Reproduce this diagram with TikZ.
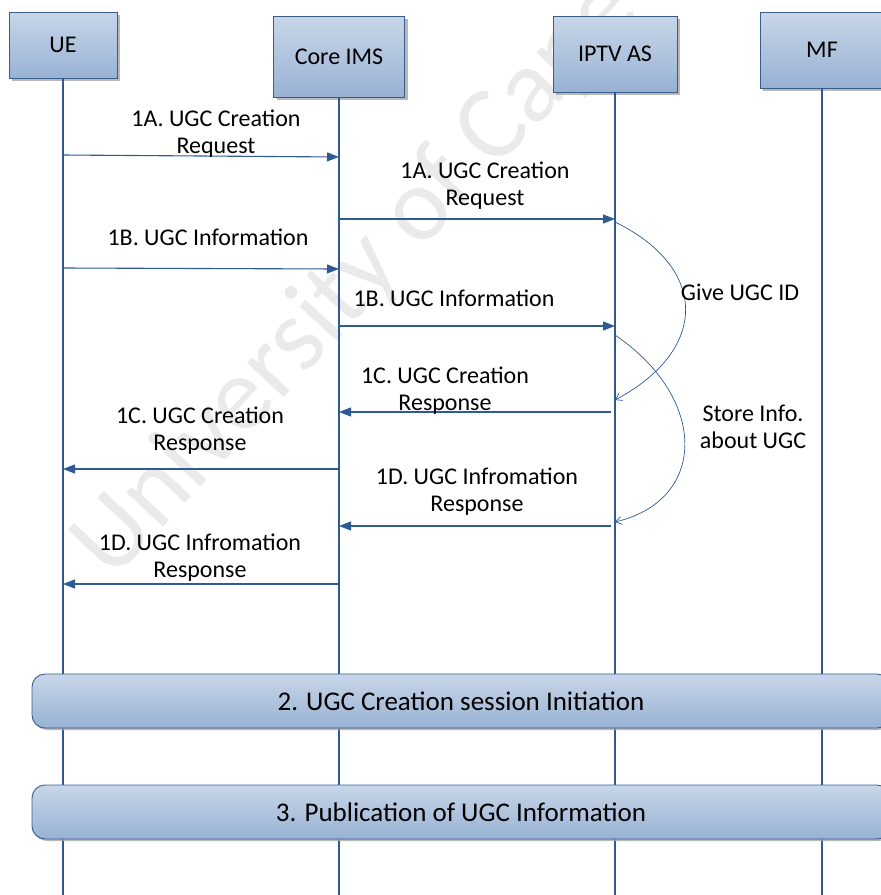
\documentclass[tikz,border=0pt]{standalone}
\usepackage{fontspec}
\setmainfont{Carlito}
\usepackage{tikz}
\usetikzlibrary{positioning, arrows.meta, shadows}
\definecolor{lanecol}{HTML}{2F5A94}
\definecolor{boxedge}{HTML}{385D8A}
\definecolor{boxtop}{HTML}{C8D6E8}
\definecolor{boxbottom}{HTML}{98B2D4}
\definecolor{markgray}{HTML}{EAEAEA}

\tikzset{
  actor/.style={draw=boxedge, line width=0.9pt, top color=boxtop, bottom color=boxbottom,
    drop shadow={shadow xshift=3pt, shadow yshift=-3pt, fill=gray!70, opacity=0.8},
    font=\fontsize{24}{28}\selectfont},
  phase/.style={draw=boxedge, line width=0.9pt, top color=boxtop, bottom color=boxbottom,
    rounded corners=13pt, minimum width=858pt, minimum height=54pt,
    drop shadow={shadow xshift=2pt, shadow yshift=-2pt, fill=gray!70, opacity=0.8},
    font=\fontsize{27}{30}\selectfont},
  lane/.style={draw=lanecol, line width=1.1pt},
  msg/.style={draw=lanecol, line width=1.1pt, -{Triangle[length=12pt,width=9pt]}},
  loopback/.style={draw=lanecol, line width=0.7pt, -{Straight Barb[length=6pt,width=8pt]}},
  lbl/.style={align=center, font=\fontsize{24}{27}\selectfont, inner sep=0pt}
}

\begin{document}
\begin{tikzpicture}[x=1pt, y=-1pt]
  \clip (0,0) rectangle (881,895);
  \useasboundingbox (0,0) rectangle (881,895);

  % watermark
  \node[anchor=base west, rotate=47, text=markgray, font=\fontsize{105}{105}\selectfont, inner sep=0pt]
    (mark) at (112,582) {University of Cape Town};

  % actors
  \node[actor, minimum width=108pt, minimum height=66pt] (ue) at (63,45) {UE};
  \node[actor, minimum width=131pt, minimum height=81pt] (ims) at (339,56.5) {Core IMS};
  \node[actor, minimum width=124pt, minimum height=76pt] (iptv) at (615,54) {IPTV AS};
  \node[actor, minimum width=124pt, minimum height=76pt] (mf) at (822,50) {MF};

  % lifelines
  \coordinate (ueend) at (63,895);
  \coordinate (imsend) at (339,895);
  \coordinate (iptvend) at (615,895);
  \coordinate (mfend) at (822,895);
  \draw[lane] (ue.south) -- (ueend);
  \draw[lane] (ims.south) -- (imsend);
  \draw[lane] (iptv.south) -- (iptvend);
  \draw[lane] (mf.south) -- (mfend);

  % messages
  \draw[msg] (ue.south |- 0,155) -- (ims.south |- 0,157);
  \node[lbl] (m1a) at (216,134) {1A. UGC Creation\\Request};
  \draw[msg] (ims.south |- 0,219) -- (iptv.south |- 0,219);
  \node[lbl] (m1a2) at (485,186) {1A. UGC Creation\\Request};
  \draw[msg] (ue.south |- 0,268) -- (ims.south |- 0,269);
  \node[lbl] (m1b) at (208,237) {1B. UGC Information};
  \draw[msg] (ims.south |- 0,326) -- (iptv.south |- 0,326);
  \node[lbl] (m1b2) at (454,298) {1B. UGC Information};
  \draw[msg] (611,412) -- (ims.south |- 0,412);
  \node[lbl] (m1c2) at (445,391) {1C. UGC Creation\\Response};
  \draw[msg] (ims.south |- 0,469) -- (ue.south |- 0,469);
  \node[lbl] (m1c) at (200,431) {1C. UGC Creation\\Response};
  \draw[msg] (611,526) -- (ims.south |- 0,526);
  \node[lbl] (m1d2) at (477,492) {1D. UGC Infromation\\Response};
  \draw[msg] (ims.south |- 0,584) -- (ue.south |- 0,584);
  \node[lbl] (m1d) at (200,558) {1D. UGC Infromation\\Response};

  % internal steps at IPTV AS
  \draw[loopback] (iptv.south |- 0,222) .. controls (709,268) and (709,350) .. (iptv.south |- 0,400);
  \node[lbl] (giveid) at (740,292) {Give UGC ID};
  \draw[loopback] (iptv.south |- 0,335) .. controls (708,398) and (708,500) .. (iptv.south |- 0,522);
  \node[lbl] (store) at (753,427) {Store Info.\\about UGC};

  % phases
  \node[phase] (phase2) at (461,701) {2. UGC Creation session Initiation};
  \node[phase] (phase3) at (461,812) {3. Publication of UGC Information};
\end{tikzpicture}
\end{document}
